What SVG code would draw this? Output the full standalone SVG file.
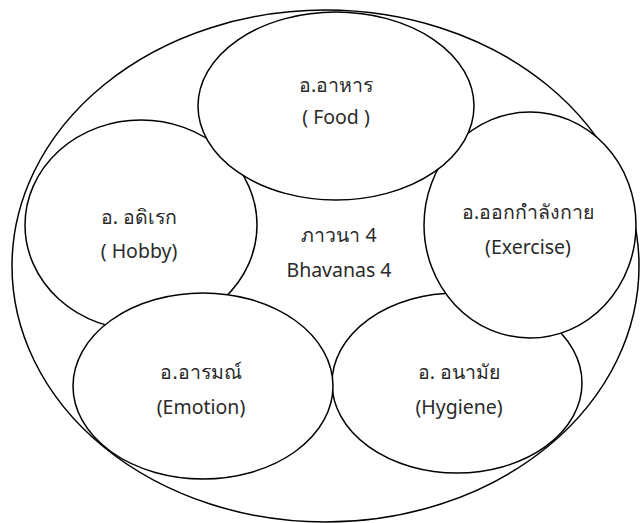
<svg xmlns="http://www.w3.org/2000/svg" width="640" height="523" viewBox="0 0 640 523">
<style>
.o{fill:#fff;stroke:#000;stroke-width:1.5}
.b{fill:none;stroke:#000;stroke-width:1.5}
text{font-family:"Noto Sans","DejaVu Sans","Liberation Sans",sans-serif;font-size:19.5px;fill:#2a2a2a;text-anchor:middle}
</style>
<rect width="640" height="523" fill="#fff"/>
<g id="outer"><ellipse class="b" cx="325.5" cy="266" rx="313.5" ry="256"/></g>
<g id="hobby"><ellipse class="o" cx="141" cy="225" rx="116" ry="105"/>
<text x="139" y="224">อ. อดิเรก</text><text x="139" y="258">( Hobby)</text></g>
<g id="hygiene"><ellipse class="o" cx="457" cy="383" rx="125" ry="90"/>
<text x="459" y="379">อ. อนามัย</text><text x="459" y="414">(Hygiene)</text></g>
<g id="exercise"><ellipse class="o" cx="530" cy="225" rx="106" ry="113"/>
<text x="528" y="219">อ.ออกกำลังกาย</text><text x="528" y="254">(Exercise)</text></g>
<g id="food"><ellipse class="o" cx="336" cy="106" rx="138" ry="94"/>
<text x="336" y="92">อ.อาหาร</text><text x="336" y="124">( Food )</text></g>
<g id="emotion"><ellipse class="o" cx="203" cy="386" rx="130" ry="93"/>
<text x="201" y="379">อ.อารมณ์</text><text x="201" y="414">(Emotion)</text></g>
<g id="center"><text x="339" y="242">ภาวนา 4</text><text x="339" y="277">Bhavanas 4</text></g>
<g id="connectors"></g>
</svg>
